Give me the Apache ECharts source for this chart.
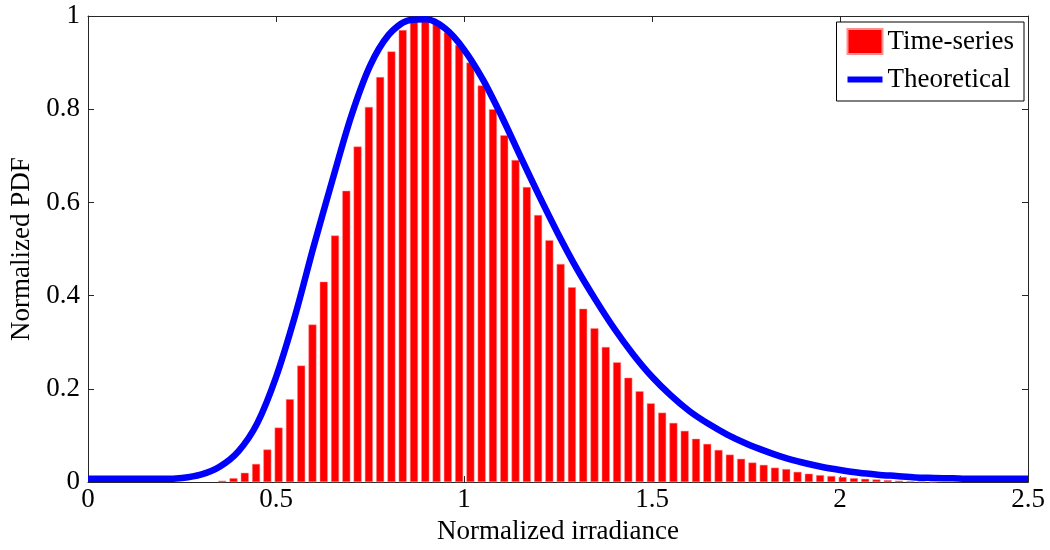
<!DOCTYPE html>
<html>
<head>
<meta charset="utf-8">
<script src="https://cdn.jsdelivr.net/npm/echarts@6/dist/echarts.min.js"></script>
<style>
html,body{margin:0;padding:0;background:#fff;}
#chart{width:1050px;height:550px;}
</style>
</head>
<body>
<div id="chart"></div>
<script>
// Histogram bin centres (Normalized irradiance)
const binCenters = [0.357,0.387,0.417,0.447,0.477,0.507,0.537,0.567,0.597,0.627,
  0.657,0.687,0.717,0.747,0.777,0.807,0.837,0.867,0.897,0.927,
  0.957,0.987,1.017,1.047,1.077,1.107,1.137,1.167,1.197,1.227,
  1.257,1.287,1.317,1.347,1.377,1.407,1.437,1.467,1.497,1.527,
  1.557,1.587,1.617,1.647,1.677,1.707,1.737,1.767,1.797,1.827,
  1.857,1.887,1.917,1.947,1.977,2.007,2.037,2.067,2.097,2.127,
  2.157,2.187,2.217,2.247];
// Time-series normalized PDF (bar heights)
const timeSeries = [0.003,0.0085,0.020,0.039,0.070,0.117,0.178,0.250,0.338,0.430,
  0.529,0.625,0.720,0.805,0.869,0.924,0.970,0.989,0.992,0.985,
  0.965,0.938,0.900,0.851,0.800,0.744,0.691,0.633,0.573,0.519,
  0.468,0.418,0.372,0.330,0.290,0.257,0.224,0.195,0.169,0.149,
  0.127,0.110,0.093,0.082,0.069,0.059,0.050,0.042,0.037,0.031,
  0.028,0.022,0.018,0.015,0.013,0.011,0.0085,0.007,0.0057,0.0043,
  0.003,0.002,0.0015,0.001];
// Theoretical curve
const curveX = [0,0.05,0.10,0.15,0.20,0.25,0.30,0.35,0.40,0.45,0.50,0.55,0.60,0.65,0.70,0.75,0.80,0.85,0.90,0.95,
  1.00,1.05,1.10,1.15,1.20,1.25,1.30,1.35,1.40,1.45,1.50,1.55,1.60,1.65,1.70,1.75,1.80,1.85,1.90,1.95,
  2.00,2.05,2.10,2.15,2.20,2.25,2.30,2.35,2.40,2.45,2.50];
const curveY = [0.007,0.007,0.007,0.007,0.007,0.009,0.016,0.033,0.066,0.126,0.225,0.355,0.505,0.648,0.785,0.893,0.960,0.990,0.993,0.973,
  0.928,0.864,0.785,0.699,0.614,0.533,0.458,0.391,0.329,0.274,0.226,0.186,0.152,0.125,0.102,0.083,0.067,0.053,0.042,0.033,
  0.026,0.020,0.016,0.013,0.010,0.009,0.008,0.007,0.007,0.007,0.007];
const xTicks = [0,0.5,1,1.5,2,2.5];
const yTicks = [0,0.2,0.4,0.6,0.8,1];

const FONT = "'Liberation Serif','Times New Roman',serif";
const AX = '#262626';
const barData = binCenters.map((x,i)=>[x,timeSeries[i]]);
const lineData = curveX.map((x,i)=>[x,curveY[i]]);

const chart = echarts.init(document.getElementById('chart'), null, {renderer:'canvas'});
const axisCommon = {
  axisLine:{show:true,onZero:false,lineStyle:{color:AX,width:1}},
  axisTick:{show:true,inside:true,length:6,lineStyle:{color:AX}},
  splitLine:{show:false}
};
chart.setOption({
  animation:false,
  backgroundColor:'#fff',
  textStyle:{fontFamily:FONT},
  grid:{left:88,right:22,top:16,bottom:63,containLabel:false},
  legend:{
    right:26, top:22,
    orient:'vertical',
    backgroundColor:'#fff',
    borderColor:'#000', borderWidth:1,
    padding:[6,10,8,10],
    itemWidth:35, itemHeight:25, itemGap:11,
    textStyle:{fontFamily:FONT,fontSize:27,color:'#000'},
    data:[
      {name:'Time-series',icon:'rect'},
      {name:'Theoretical',icon:'path://M0,0 M35,25 M0,9.5 L35,9.5 L35,15.5 L0,15.5 Z',
        itemStyle:{color:'#0000ff',borderWidth:0}}
    ]
  },
  xAxis:[
    Object.assign({type:'value',min:0,max:2.5,interval:0.5,position:'bottom',
      name:'Normalized irradiance',nameLocation:'middle',nameGap:31,
      nameTextStyle:{fontFamily:FONT,fontSize:27,color:'#000'},
      axisLabel:{fontFamily:FONT,fontSize:27,color:'#000',margin:4,
        formatter:v=>xTicks.includes(v)?String(v):''}},axisCommon),
    Object.assign({type:'value',min:0,max:2.5,interval:0.5,position:'top',
      axisLabel:{show:false}},axisCommon)
  ],
  yAxis:[
    Object.assign({type:'value',min:0,max:1,interval:0.2,position:'left',
      name:'Normalized PDF',nameLocation:'middle',nameGap:48,
      nameTextStyle:{fontFamily:FONT,fontSize:27,color:'#000'},
      axisLabel:{fontFamily:FONT,fontSize:27,color:'#000',margin:8,
        formatter:v=>yTicks.includes(+v.toFixed(1))?String(+v.toFixed(1)):''}},axisCommon),
    Object.assign({type:'value',min:0,max:1,interval:0.2,position:'right',
      axisLabel:{show:false}},axisCommon)
  ],
  series:[
    {name:'Time-series',type:'bar',xAxisIndex:0,yAxisIndex:0,
      data:barData,barWidth:8,z:2,
      itemStyle:{color:'#ff0000',borderColor:'#ff9090',borderWidth:0.5}},
    {name:'Theoretical',type:'line',xAxisIndex:0,yAxisIndex:0,
      data:lineData,smooth:0.3,symbol:'none',showSymbol:false,z:3,
      lineStyle:{color:'#0000ff',width:6.5},itemStyle:{color:'#0000ff'}}
  ]
});
</script>
</body>
</html>
